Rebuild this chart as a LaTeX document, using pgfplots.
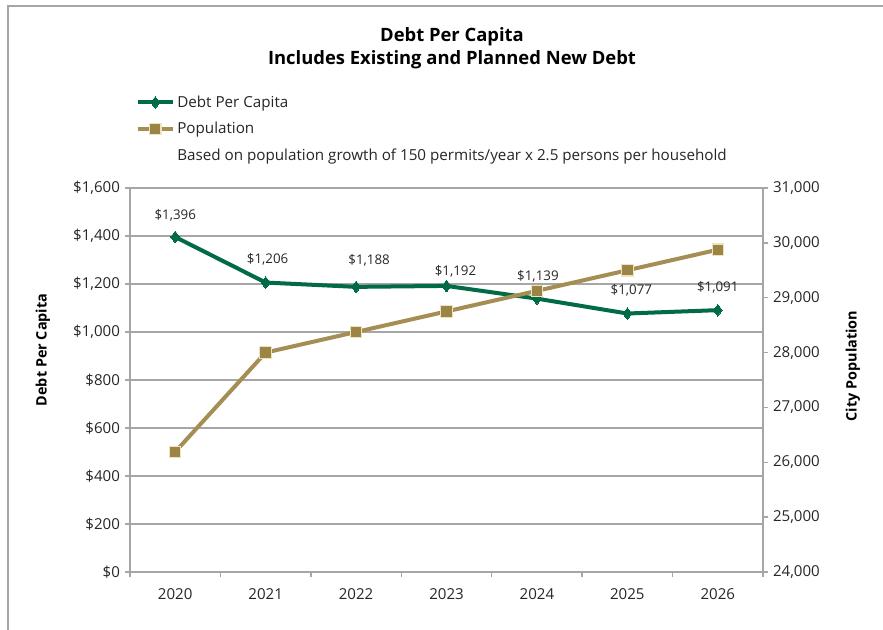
\documentclass[border=0pt]{standalone}
\usepackage{fontspec}
\setmainfont{Open Sans}
\usepackage{pgfplots}
\pgfplotsset{compat=1.18}
\usepackage{pgfplotstable}
\definecolor{dgreen}{HTML}{006B45}
\definecolor{gold}{HTML}{A48E54}
\definecolor{goldfill}{HTML}{9B8444}
\definecolor{goldedge}{HTML}{ECE4BE}
\definecolor{gridc}{HTML}{A6A6A6}
\definecolor{txt}{HTML}{262626}
\pgfplotstableread{
x y xo yo
0 1396 0 22
1 1206 2 23
2 1188 13 27
3 1192 9 14.3
4 1139 1 22.6
5 1077 4 23.5
6 1091 0 23
}\debt
\pgfplotstableread{
x y
0 26190
1 28000
2 28375
3 28750
4 29125
5 29500
6 29875
}\popu
\pgfplotsset{
  debtstyle/.style={dgreen, line width=3pt, mark=diamond*, mark size=4.4pt, mark options={solid, line width=0pt, fill=dgreen, draw=dgreen}},
  popstyle/.style={gold, line width=3pt, mark=square*, mark size=4.3pt, mark options={solid, line width=0.8pt, fill=goldfill, draw=goldedge}},
  mycommon/.style={
    width=474.75pt, height=288pt, scale only axis,
    at={(97.5pt,43.5pt)}, anchor=south west,
    xmin=-0.5, xmax=6.5,
    /pgf/number format/assume math mode=true,
    /pgf/number format/1000 sep={,},
    tick label style={font=\fontsize{11.3}{13}\selectfont, text=txt},
    axis line style={gridc, line width=1.1pt, -},
    tick style={gridc, line width=1.1pt},
    tick align=outside,
    major tick length=4pt,
    clip=false,
  },
}
\begin{document}
\begin{tikzpicture}[x=0.75pt,y=0.75pt]
\useasboundingbox (0,0) rectangle (883,630);
\draw[gridc, line width=0.9pt] (8,-2) -- (8,624) -- (885,624);
\node[font=\bfseries\fontsize{13.8}{16}\selectfont, text=black] at (452,593) {Debt Per Capita};
\node[font=\bfseries\fontsize{13.8}{16}\selectfont, text=black] at (452,570) {Includes Existing and Planned New Debt};
\node[font=\bfseries\fontsize{10.8}{12}\selectfont, rotate=90] at (43,280) {Debt Per Capita};
\node[font=\bfseries\fontsize{10.8}{12}\selectfont, rotate=90] at (853,264) {City Population};
\begin{axis}[mycommon,
  axis x line*=bottom, axis y line*=left,
  ymin=0, ymax=1600, ytick={0,200,...,1600},
  yticklabel={\$\pgfmathprintnumber{\tick}},
  ymajorgrids, major grid style={gridc, line width=1.1pt},
  xtick={0,...,6}, xticklabels={2020,2021,2022,2023,2024,2025,2026},
  major x tick style={draw=none},
  minor xtick={-0.5,0.5,...,6.5},
  minor tick length=4pt,
  minor x tick style={gridc, line width=1.1pt},
  xticklabel style={yshift=-5pt},
]
\addplot[debtstyle, point meta=explicit,
  visualization depends on={\thisrow{xo}\as\xo},
  visualization depends on={\thisrow{yo}\as\yo},
  nodes near coords={\$\pgfmathprintnumber[1000 sep={,}]{\pgfplotspointmeta}},
  every node near coord/.append style={anchor=center, xshift=0.75*\xo pt, yshift=0.75*\yo pt, font=\fontsize{10}{12}\selectfont, text=txt}
] table[x=x, y=y, meta=y] {\debt};
\end{axis}
\begin{axis}[mycommon,
  axis x line=none, axis y line*=right,
  ymin=24000, ymax=31000, ytick={24000,25000,...,31000},
  scaled y ticks=false,
  legend style={at={(0.009,1.248)}, anchor=north west, draw=none, fill=none,
    font=\fontsize{11.4}{13}\selectfont, text=txt, row sep=5.6pt, inner sep=0pt},
  legend cell align=left,
  legend image code/.code={\draw[mark repeat=2, mark phase=2, #1] plot coordinates {(0pt,0pt) (13pt,0pt) (26pt,0pt)};},
]
\addlegendimage{debtstyle}
\addlegendentry{Debt Per Capita}
\addplot[popstyle] table[x=x, y=y] {\popu};
\addlegendentry{Population}
\addlegendimage{empty legend}
\addlegendentry{Based on population growth of 150 permits/year x 2.5 persons per household}
\end{axis}
\end{tikzpicture}
\end{document}
